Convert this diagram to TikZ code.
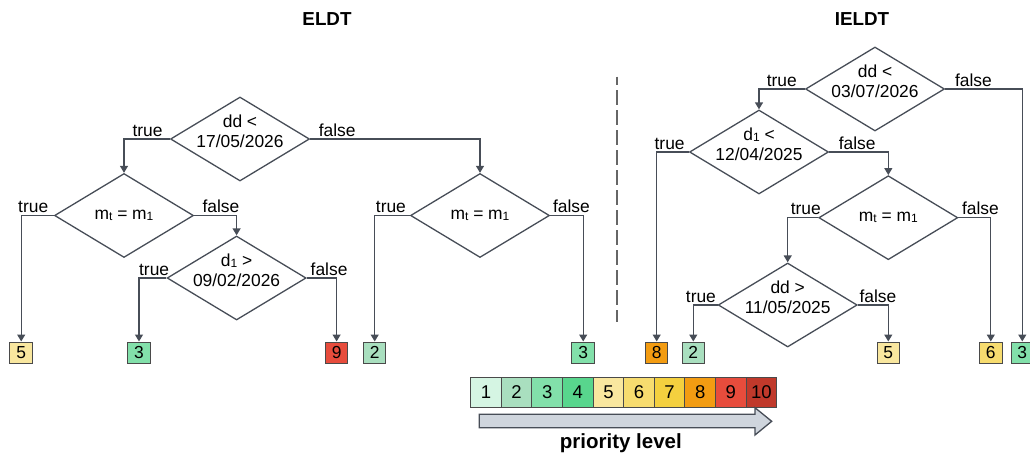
\documentclass[tikz,border=0pt]{standalone}
\usepackage{fontspec}
\setmainfont{Liberation Sans}
\usetikzlibrary{shapes.geometric,arrows.meta}
\definecolor{linec}{HTML}{474D57}
\definecolor{boxb}{HTML}{4A4A4A}
\definecolor{p1}{HTML}{D5F5E3}
\definecolor{p2}{HTML}{A9DFBF}
\definecolor{p3}{HTML}{82E0AA}
\definecolor{p4}{HTML}{58D68D}
\definecolor{p5}{HTML}{F9E79F}
\definecolor{p6}{HTML}{F7DC6F}
\definecolor{p7}{HTML}{F4D03F}
\definecolor{p8}{HTML}{F39C12}
\definecolor{p9}{HTML}{E74C3C}
\definecolor{p10}{HTML}{C0392B}
\definecolor{arrfill}{HTML}{CFD5DD}
\newcommand{\txt}{\fontsize{17.4}{20}\selectfont}
\newcommand{\smsub}[1]{\raisebox{-1pt}{\fontsize{12}{12}\selectfont #1}}
\tikzset{
  dia/.style={diamond, draw=linec, line width=1.3pt, minimum width=139pt, minimum height=84pt, inner sep=0pt},
  dtxt/.style={align=center, font=\txt, inner sep=0pt},
  leaf/.style={rectangle, draw=boxb, line width=1pt, minimum width=22.5pt, minimum height=21pt, inner sep=0pt, font=\txt},
  cell/.style={rectangle, draw=boxb, line width=1pt, minimum width=30.6pt, minimum height=30pt, inner sep=0pt, font=\fontsize{18.5}{20}\selectfont},
  conn/.style={draw=linec, line width=1.3pt, -{Triangle[length=7pt,width=8pt]}},
  tl/.style={font=\txt, inner sep=0pt, anchor=base east, yshift=3pt},
  fl/.style={font=\txt, inner sep=0pt, anchor=base west, yshift=3pt},
  ttl/.style={font=\fontsize{18.8}{20}\selectfont\bfseries, inner sep=0pt}
}
\begin{document}
\begin{tikzpicture}[x=1pt,y=-1pt]
\useasboundingbox (0,0) rectangle (1030,455);
% titles
\node[ttl] (t1) at (327,19.5) {ELDT};
\node[ttl] (t2) at (862,19.5) {IELDT};
% separator
\coordinate (s1) at (616.7,76.7);
\coordinate (s2) at (616.7,322);
\draw[draw=gray!80!black, line width=2pt, dash pattern=on 8.3pt off 5pt on 15pt off 5pt on 15pt off 5pt on 15pt off 5pt on 15pt off 5pt on 15pt off 5pt on 15pt off 5pt on 15pt off 5pt on 15pt off 5pt on 15pt off 5pt on 15pt off 5pt on 15pt off 5pt on 15pt off 5pt] (s1) -- (s2);

% ---------- ELDT ----------
\node[dia] (d1) at (240,139) {};
\node[dtxt] (d1t) at (240,131) {dd <\\17/05/2026};
\node[dia] (d2) at (124,215.5) {};
\node[dtxt] (d2t) at (124,215.5) {m\smsub{t} = m\smsub{1}};
\node[dia] (d3) at (236.6,278) {};
\node[dtxt] (d3t) at (236.6,270) {d\smsub{1} >\\09/02/2026};
\node[dia] (d4) at (480,215.5) {};
\node[dtxt] (d4t) at (480,215.5) {m\smsub{t} = m\smsub{1}};

\node[leaf, fill=p5] (l1) at (21.2,352.5) {5};
\node[leaf, fill=p3] (l2) at (139,352.5) {3};
\node[leaf, fill=p9] (l3) at (336.6,352.5) {9};
\node[leaf, fill=p2] (l4) at (374.7,352.5) {2};
\node[leaf, fill=p3] (l5) at (583.2,352.5) {3};

\draw[conn] (d1.west) -| (d2.north) node[tl, at start, xshift=-6.7pt] {true};
\draw[conn] (d1.east) -| (d4.north) node[fl, at start, xshift=8pt] {false};
\draw[conn] (d2.west) -| (l1.north) node[tl, at start, xshift=-5pt] {true};
\draw[conn] (d2.east) -| (d3.north) node[fl, at start, xshift=7.7pt] {false};
\draw[conn] (d3.west) -| (l2.north) node[tl, at start, xshift=3.3pt] {true};
\draw[conn] (d3.east) -| (l3.north) node[fl, at start, xshift=3.3pt] {false};
\draw[conn] (d4.west) -| (l4.north) node[tl, at start, xshift=-3.3pt] {true};
\draw[conn] (d4.east) -| (l5.north) node[fl, at start, xshift=2.3pt] {false};

% ---------- IELDT ----------
\node[dia] (e1) at (875,89) {};
\node[dtxt] (e1t) at (875,81) {dd <\\03/07/2026};
\node[dia] (e2) at (759,152) {};
\node[dtxt] (e2t) at (759,144) {d\smsub{1} <\\12/04/2025};
\node[dia] (e3) at (888.3,217.7) {};
\node[dtxt] (e3t) at (888.3,217.7) {m\smsub{t} = m\smsub{1}};
\node[dia] (e4) at (787.7,305) {};
\node[dtxt] (e4t) at (787.7,297) {dd >\\11/05/2025};

\node[leaf, fill=p8] (k1) at (656.7,352.5) {8};
\node[leaf, fill=p2] (k2) at (693.3,352.5) {2};
\node[leaf, fill=p5] (k3) at (888.3,352.5) {5};
\node[leaf, fill=p6] (k4) at (990.8,352.5) {6};
\node[leaf, fill=p3] (k5) at (1022.3,352.5) {3};

\draw[conn] (e1.west) -| (e2.north) node[tl, at start, xshift=-7.4pt] {true};
\draw[conn] (e1.east) -| (k5.north) node[fl, at start, xshift=9.3pt] {false};
\draw[conn] (e2.west) -| (k1.north) node[tl, at start, xshift=-3.6pt] {true};
\draw[conn] (e2.east) -| (e3.north) node[fl, at start, xshift=9pt] {false};
\draw[conn] (e3.west) -| (e4.north) node[tl, at start, xshift=3.3pt] {true};
\draw[conn] (e3.east) -| (k4.north) node[fl, at start, xshift=3pt] {false};
\draw[conn] (e4.west) -| (k2.north) node[tl, at start, xshift=-1pt] {true};
\draw[conn] (e4.east) -| (k3.north) node[fl, at start, xshift=1pt] {false};

% ---------- legend ----------
\foreach \i in {1,...,10} {
  \node[cell, fill=p\i] (c\i) at ({470.7+30.6*(\i-0.5)},392.3) {\i};
}
\draw[draw=linec, line width=1.3pt, fill=arrfill, line join=miter]
  (479.3,414.3) -- (755,414.3) -- (755,407.7) -- (771.7,421.3) -- (755,435) -- (755,427.7) -- (479.3,427.7) -- cycle;
\node[font=\fontsize{20.5}{22}\selectfont\bfseries, inner sep=0pt, anchor=base] (pl) at (620.8,448.3) {priority level};
\end{tikzpicture}
\end{document}
